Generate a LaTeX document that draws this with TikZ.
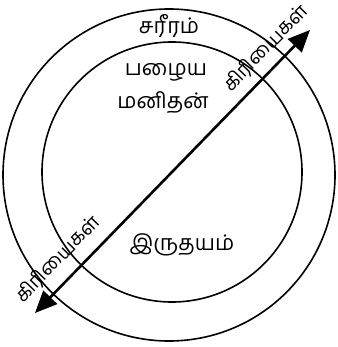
\documentclass[tikz,border=0pt]{standalone}
\usepackage{fontspec}
\newfontfamily\tamilfont[Script=Tamil]{Hind Madurai}
\usetikzlibrary{arrows.meta}

\begin{document}
\begin{tikzpicture}[
		x=1pt,
		y=-1pt,
		line cap=round,
		line join=round,
		tamil/.style={font=\tamilfont\fontsize{21.5}{24}\selectfont, inner sep=0pt},
		act/.style={font=\tamilfont\fontsize{19.5}{22}\selectfont, inner sep=0pt, rotate=45.8}
		]
		\useasboundingbox (0,0) rectangle (337,347);
		
		%------------------------------------------------------------------
		% Coordinates
		%------------------------------------------------------------------
		\coordinate (Body)  at (169,175);
		\coordinate (Heart) at (172,172);
		
		\coordinate (ActLo) at ( 35,313);
		\coordinate (ActHi) at (310, 30);
		
		%------------------------------------------------------------------
		% Circles
		%------------------------------------------------------------------
		\draw[line width=1.6pt] (Body)  circle[radius=166];
		\draw[line width=1.6pt] (Heart) circle[radius=130];
		
		%------------------------------------------------------------------
		% Works arrow
		%------------------------------------------------------------------
		\draw[{Triangle[length=22pt,width=19pt]}-{Triangle[length=22pt,width=19pt]}, line width=2.6pt]
		(ActLo) -- (ActHi);
		
		%------------------------------------------------------------------
		% Labels
		%------------------------------------------------------------------
		\node[tamil] (body)  at (169, 26) {சரீரம்};
		\node[tamil] (old1)  at (166, 72) {பழைய};
		\node[tamil] (old2)  at (163,103) {மனிதன்};
		\node[tamil] (heart) at (182,245) {இருதயம்};
		
		\node[act] (actHi) at (266, 48) {கிரியைகள்};
		\node[act] (actLo) at ( 58,259) {கிரியைகள்};
		
	\end{tikzpicture}
\end{document}
